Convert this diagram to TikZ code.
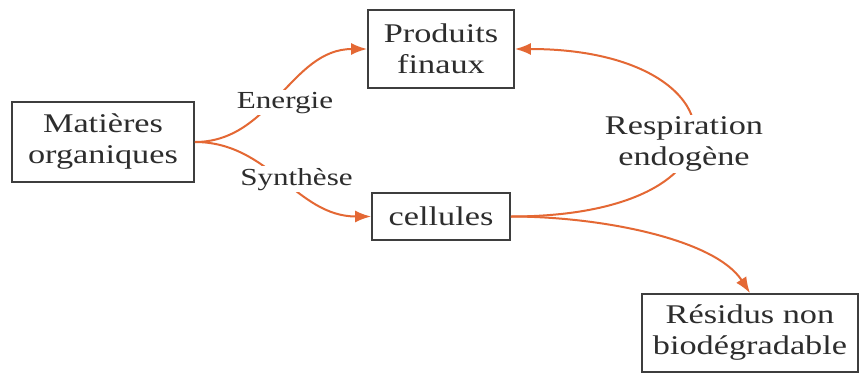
\documentclass[tikz,border=0pt]{standalone}
\usepackage{fontspec}
\setmainfont{Liberation Serif}[FakeStretch=1.27]
\usetikzlibrary{arrows.meta}
\definecolor{arrowc}{RGB}{228,104,52}
\definecolor{boxc}{RGB}{62,62,62}
\definecolor{txtc}{RGB}{45,45,45}
\begin{document}
\begin{tikzpicture}[x=1pt,y=-1pt,
  box/.style={draw=boxc, line width=1.8pt, align=center, text=txtc, inner sep=0pt,
    font=\fontsize{27}{31}\selectfont},
  lab/.style={fill=white, text=txtc, inner sep=2pt, align=center,
    font=\fontsize{24.5}{29}\selectfont},
  biglab/.style={lab, font=\fontsize{27}{31}\selectfont},
  conn/.style={draw=arrowc, line width=2pt, -{Latex[length=16pt,width=12pt]}}]
\fill[white] (0,0) rectangle (862,375);
\useasboundingbox (0,0) rectangle (862,375);
% boxes
\node[box, minimum width=182pt, minimum height=80pt] (mat) at (103,142) {Matières\\organiques};
\node[box, minimum width=146pt, minimum height=78pt] (prod) at (441,49) {Produits\\finaux};
\node[box, minimum width=138pt, minimum height=47pt] (cel) at (441,216.5) {cellules};
\node[box, minimum width=216pt, minimum height=78pt] (res) at (750,333) {Résidus non\\biodégradable};
% connectors
\draw[conn] (mat.east) to[out=0,in=180] (prod.west);
\draw[conn] (mat.east) to[out=0,in=180] (cel.west);
\draw[conn] (cel.east) .. controls +(250,0) and +(230,0) .. (prod.east);
\draw[conn] (cel.east) .. controls +(90,0) and +(-35,-54) .. (res.north);
% labels on the connectors
\node[lab, anchor=base] (en) at (285,108) {Energie};
\node[lab, anchor=base] (sy) at (296.5,185) {Synthèse};
\node[biglab] (re) at (684,144) {Respiration\\endogène};
\end{tikzpicture}
\end{document}
